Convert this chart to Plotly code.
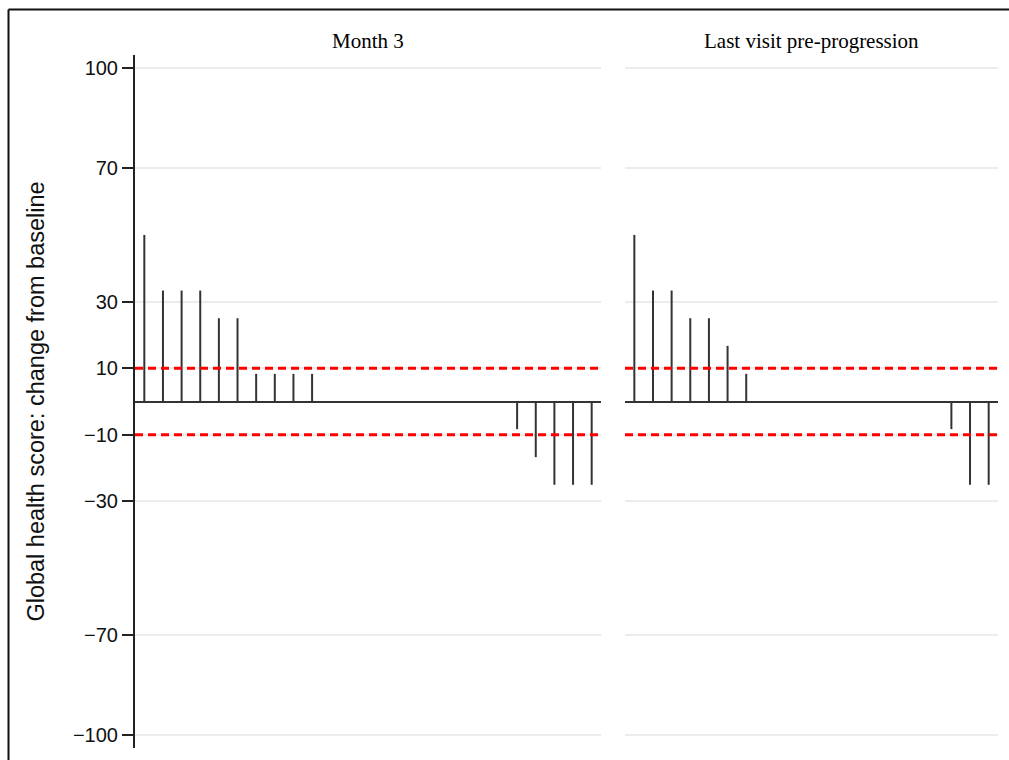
import plotly.graph_objects as go

# ---- data ----
panel_titles = ["Month 3", "Last visit pre-progression"]
month3_values = [50, 33.3, 33.3, 33.3, 25, 25, 8.3, 8.3, 8.3, 8.3,
                 0, 0, 0, 0, 0, 0, 0, 0, 0, 0,
                 -8.3, -16.7, -25, -25, -25]
lastvisit_values = [50, 33.3, 33.3, 25, 25, 16.7, 8.3,
                    0, 0, 0, 0, 0, 0, 0, 0, 0, 0,
                    -8.3, -25, -25]
ytick_vals = [100, 70, 30, 10, -10, -30, -70, -100]
ytick_text = ["100", "70", "30", "10", "\u221210", "\u221230", "\u221270", "\u2212100"]
threshold_vals = [10, -10]
y_title = "Global health score: change from baseline"

W, H = 1009, 760
ML, MR, MT, MB = 135, 11, 55, 12
plot_w = W - ML - MR
plot_h = H - MT - MB

def px_x(px):
    return (px - ML) / plot_w

def px_y(py):
    return (H - MB - py) / plot_h

fig = go.Figure()

series = [month3_values, lastvisit_values]
axes = [("x", "y"), ("x2", "y2")]
for vals, (xa, ya) in zip(series, axes):
    xs, ys = [], []
    for i, v in enumerate(vals):
        if v == 0:
            continue
        xs += [i, i, None]
        ys += [0, v, None]
    fig.add_trace(go.Scatter(x=xs, y=ys, mode="lines", xaxis=xa, yaxis=ya,
                             line=dict(color="#333333", width=2),
                             showlegend=False, hoverinfo="skip"))

yr = [-104, 104]
common_y = dict(range=yr, tickvals=ytick_vals, showgrid=True, gridcolor="#ececec",
                gridwidth=2, zeroline=True, zerolinecolor="#333333", zerolinewidth=2,
                fixedrange=True)

fig.update_layout(
    width=W, height=H,
    margin=dict(l=ML, r=MR, t=MT, b=MB),
    paper_bgcolor="white", plot_bgcolor="white",
    showlegend=False,
    xaxis=dict(domain=[0, px_x(601)], range=[-0.5, len(month3_values) - 0.5],
               visible=False, fixedrange=True),
    xaxis2=dict(domain=[px_x(625), 1], range=[-0.5, len(lastvisit_values) - 0.5],
                visible=False, fixedrange=True),
    yaxis=dict(**common_y, ticktext=ytick_text, showticklabels=True,
               ticks="outside", ticklen=11, tickwidth=1.5, tickcolor="#222222",
               showline=True, linecolor="#222222", linewidth=2,
               tickfont=dict(family="Liberation Sans, Arial", size=20, color="#111111"),
               title=dict(text=y_title, standoff=22,
                          font=dict(family="Liberation Sans, Arial", size=23.5, color="#111111"))),
    yaxis2=dict(**common_y, anchor="x2", showticklabels=False, showline=False, ticks=""),
)

shapes = []
for xa, ya in axes:
    for t in threshold_vals:
        shapes.append(dict(type="line", xref=f"{xa} domain", yref=ya, x0=0, x1=1, y0=t, y1=t,
                           line=dict(color="#ff0000", width=3, dash="8px,5px"), layer="above"))
# outer frame (top and left edges only; right/bottom lie outside the picture)
frame = dict(color="#111111", width=2)
shapes.append(dict(type="line", xref="paper", yref="paper",
                   x0=px_x(8.5), x1=px_x(1009), y0=px_y(9.5), y1=px_y(9.5), line=frame))
shapes.append(dict(type="line", xref="paper", yref="paper",
                   x0=px_x(8.5), x1=px_x(8.5), y0=px_y(9.5), y1=px_y(760), line=frame))
fig.update_layout(shapes=shapes)

annotations = []
for title, xa in zip(panel_titles, ["x", "x2"]):
    annotations.append(dict(text=title, xref=f"{xa} domain", yref="paper", x=0.5, y=px_y(41),
                            xanchor="center", yanchor="middle", showarrow=False,
                            font=dict(family="Liberation Serif, Times New Roman", size=21,
                                      color="#000000")))
fig.update_layout(annotations=annotations)

fig.write_html("out.html", config={"displayModeBar": False},
               post_script="document.body.style.margin='0';document.body.style.overflow='hidden';")
